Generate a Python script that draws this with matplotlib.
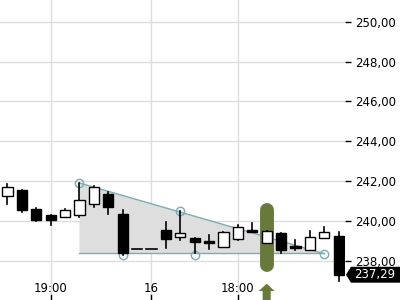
import matplotlib
matplotlib.use("Agg")
import matplotlib.pyplot as plt
from matplotlib.patches import Polygon
import matplotlib.transforms as mtransforms

# candle data (OHLC), one candle per slot
opens = [241.25, 241.55, 240.60, 240.30, 240.18, 240.28, 240.83, 241.35, 240.33, 238.58,
         238.58, 239.53, 239.18, 239.13, 239.00, 238.70, 239.08, 239.52, 238.90, 239.40,
         238.72, 238.55, 239.13, 239.25]
closes = [241.68, 240.52, 240.02, 240.02, 240.53, 241.03, 241.68, 240.68, 238.40, 238.58,
          238.58, 239.07, 239.38, 238.93, 238.88, 239.43, 239.68, 239.43, 239.48, 238.53,
          238.62, 239.18, 239.43, 237.29]
highs = [241.85, 241.57, 240.62, 240.30, 240.60, 241.90, 241.77, 241.45, 240.55, 238.58,
         238.58, 239.93, 240.47, 239.15, 239.30, 239.45, 239.80, 239.88, 239.50, 239.40,
         239.02, 239.48, 239.68, 239.45]
lows = [240.83, 240.42, 240.00, 239.77, 240.18, 240.18, 240.68, 240.33, 238.30, 238.58,
        238.58, 238.63, 239.02, 238.38, 238.58, 238.70, 239.05, 239.43, 238.90, 238.38,
        238.55, 238.55, 239.13, 236.97]

x_tick_pos = [3, 10, 16]
x_tick_labels = ["19:00", "16", "18:00"]
y_ticks = [238, 240, 242, 244, 246, 248, 250]

# triangle pattern
tri_upper_x = [5, 22]
tri_upper_y = [241.90, 238.35]
tri_lower_x = [5, 22]
tri_lower_y = [238.38, 238.38]
pivot_x = [5, 8, 12, 13, 22]
pivot_y = [241.90, 238.30, 240.47, 238.30, 238.35]

signal_x = 18
last_price = 237.29

TEAL = "#78aeb6"
GREEN = "#687a3a"

fig = plt.figure(figsize=(4, 3), dpi=100)
ax = fig.add_axes([0, 0, 345 / 400, 1])
ax.set_xlim(-0.52, 23.44)
ax.set_ylim(236.02, 251.1)

for s in ax.spines.values():
    s.set_visible(False)

# grid
for yv in y_ticks:
    ax.axhline(yv, color="#dddddd", lw=1, zorder=0)
for xv in x_tick_pos:
    ax.axvline(xv, color="#dddddd", lw=1, zorder=0)

# triangle fill + lines
ax.add_patch(Polygon([(tri_upper_x[0], tri_upper_y[0]), (tri_upper_x[1], tri_upper_y[1]),
                      (tri_lower_x[0], tri_lower_y[0])],
                     closed=True, facecolor="#dedede", edgecolor="none", zorder=1))
ax.plot(tri_upper_x, tri_upper_y, color=TEAL, lw=1, zorder=2)
ax.plot(tri_lower_x, tri_lower_y, color=TEAL, lw=1, zorder=2)
ax.plot(pivot_x, pivot_y, "o", ms=6, mfc="none", mec=TEAL, mew=1, zorder=2.5)

# signal highlight
ax.plot([signal_x, signal_x], [237.79, 240.53], color=GREEN, lw=10, solid_capstyle="round", zorder=2.6)

# candles
w = 0.7
for i, (o, h, l, c) in enumerate(zip(opens, highs, lows, closes)):
    ax.plot([i, i], [l, h], color="black", lw=1.2, zorder=3)
    lo, hi = min(o, c), max(o, c)
    if o == c:
        ax.plot([i - w / 2, i + w / 2], [o, o], color="black", lw=1.2, zorder=4)
        continue
    ax.add_patch(plt.Rectangle((i - w / 2, lo), w, hi - lo,
                               facecolor="white" if c > o else "black",
                               edgecolor="black", lw=1, zorder=4))

# up arrow under the signal
hw, sw = 0.55, 0.28
ax.add_patch(Polygon([(signal_x - hw, 236.47), (signal_x, 236.84), (signal_x + hw, 236.47),
                      (signal_x + sw, 236.47), (signal_x + sw, 236.0), (signal_x - sw, 236.0),
                      (signal_x - sw, 236.47)], closed=True, facecolor=GREEN,
                     edgecolor="none", zorder=5))

# axes / ticks
ax.set_xticks([])
trans_x = mtransforms.blended_transform_factory(ax.transData, ax.transAxes)
for xv, lab in zip(x_tick_pos, x_tick_labels):
    ax.text(xv, 12 / 300, lab, transform=trans_x, ha="center", va="center", fontsize=8.5)
    ax.plot([xv, xv], [0, 5 / 300], transform=trans_x, color="black", lw=1, clip_on=False)

ax.yaxis.tick_right()
ax.set_yticks(y_ticks)
ax.set_yticklabels([f"{v:.2f}".replace(".", ",") for v in y_ticks], fontsize=8.5)
ax.tick_params(axis="y", length=4, width=1, pad=3, color="black")

# last price tag
trans_y = mtransforms.blended_transform_factory(ax.transAxes, ax.transData)
x0 = 346 / 345
x1 = 351 / 345
x2 = 400 / 345
dy = 0.40
ax.add_patch(Polygon([(x0, last_price), (x1, last_price + dy), (x2, last_price + dy),
                      (x2, last_price - dy), (x1, last_price - dy)], closed=True,
                     transform=trans_y, facecolor="black", edgecolor="none",
                     clip_on=False, zorder=6))
ax.text(375 / 345, last_price, f"{last_price:.2f}".replace(".", ","), transform=trans_y,
        ha="center", va="center", color="white", fontsize=8.5, zorder=7)

fig.savefig("out.png", dpi=100, facecolor="white")
